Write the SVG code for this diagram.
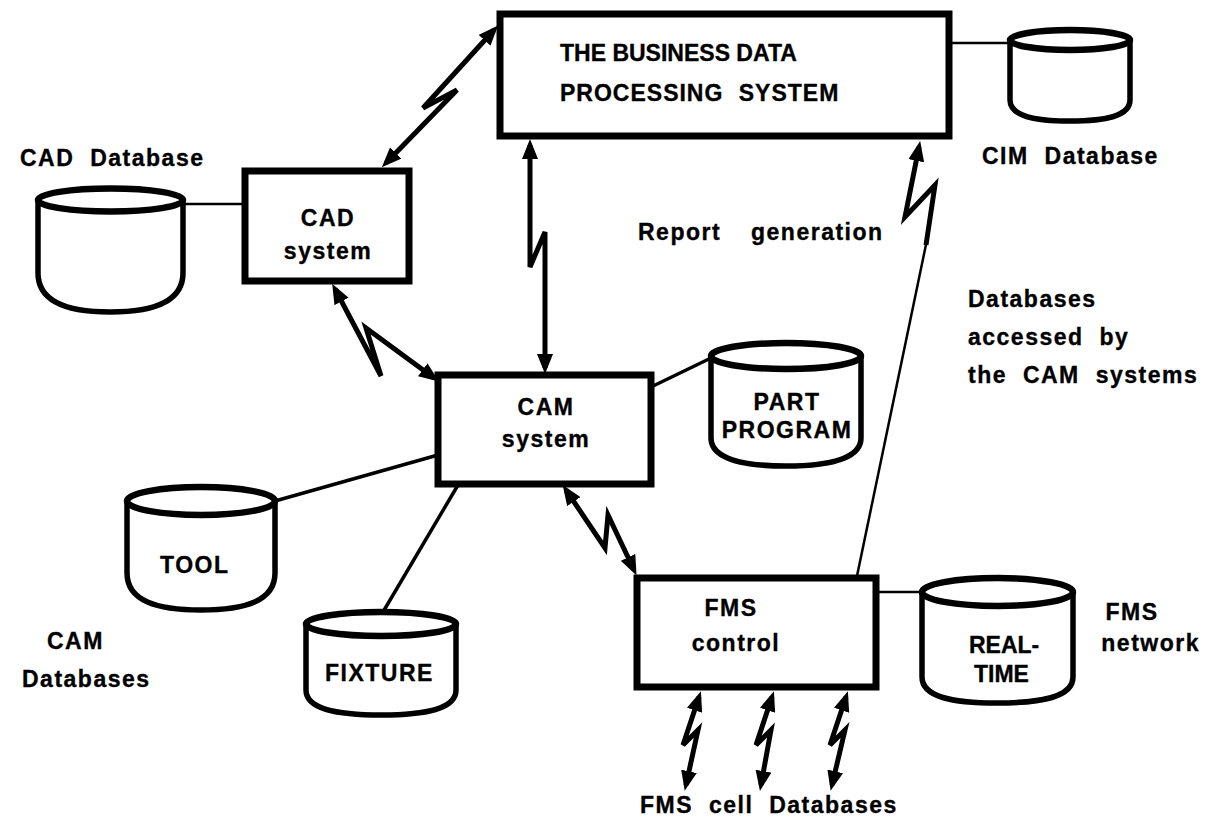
<svg xmlns="http://www.w3.org/2000/svg" width="1210" height="823" viewBox="0 0 1210 823">
  <defs>
    <style>
      .box{fill:#fff;stroke:#000;stroke-width:7}
      .body{fill:#fff;stroke:#000;stroke-width:5.5;stroke-linejoin:round}
      .rim{fill:#fff;stroke:#000;stroke-width:6.5}
      .link{fill:none;stroke:#000;stroke-width:3.5}
      .thin{fill:none;stroke:#000;stroke-width:2.5}
      .bolt{fill:none;stroke:#000;stroke-width:5;marker-start:url(#head);marker-end:url(#head)}
      .bolt1{fill:none;stroke:#000;stroke-width:5;marker-end:url(#head)}
      text{font-family:"Liberation Sans",Arial,Helvetica,sans-serif;font-weight:bold;font-size:23px;letter-spacing:1.5px;word-spacing:8px;fill:#000;stroke:#000;stroke-width:0.35}
      .mid{text-anchor:middle}
      .end{text-anchor:end}
      .tight{letter-spacing:0;word-spacing:0}
    </style>
    <marker id="head" markerUnits="userSpaceOnUse" viewBox="0 0 20 16" markerWidth="20" markerHeight="16" refX="14" refY="8" orient="auto-start-reverse">
      <path d="M0,0 L20,8 L0,16 z" fill="#000"/>
    </marker>
  </defs>

  <!-- connectors: database links and lightning-bolt data links -->
  <g id="connectors">
    <line class="thin" x1="949" y1="43" x2="1010" y2="43"/>
    <line class="thin" x1="183" y1="204" x2="245" y2="204"/>
    <line class="link" x1="651" y1="387" x2="711" y2="358"/>
    <line class="link" x1="275" y1="501" x2="438" y2="455"/>
    <line class="link" x1="383" y1="612" x2="458" y2="485"/>
    <line class="thin" x1="876" y1="592" x2="922" y2="592"/>

    <path class="bolt" d="M386,163 L457,90 L423,108 L494,30"/>
    <path class="bolt" d="M530,145 L530,267 L545,232 L545,368"/>
    <path class="bolt" d="M335,289 L381,376 L366,328 L434,378"/>
    <path class="bolt" d="M566,490 L605,548 L608,515 L634,570"/>
    <path class="thin" d="M857,576 L928,235"/>
    <path class="bolt1" d="M926,245 L935,185 L905,217 L919,147"/>
    <path class="bolt" d="M699,697 L683,745 L698,730 L686,785"/>
    <path class="bolt" d="M772,697 L756,745 L771,730 L761,785"/>
    <path class="bolt" d="M846,697 L830,745 L845,730 L832,785"/>
  </g>

  <g id="business">
    <rect class="box" x="500" y="14" width="449" height="122"/>
    <text class="tight" x="560" y="61">THE BUSINESS DATA</text>
    <text x="560" y="101" style="letter-spacing:1px">PROCESSING SYSTEM</text>
  </g>

  <g id="cim-db">
    <path class="body" d="M1010,40 L1010,100 C1010,116 1034,121 1070,121 S1130,116 1130,100 L1130,40"/>
    <ellipse class="rim" cx="1070" cy="40" rx="60" ry="10"/>
    <text x="982" y="164">CIM Database</text>
  </g>

  <g id="cad-db">
    <path class="body" d="M38,200 L38,273 C38,302 67,312 110,312 S183,302 183,273 L183,200"/>
    <ellipse class="rim" cx="110.5" cy="200" rx="72.5" ry="11.5"/>
    <text x="20" y="166">CAD Database</text>
  </g>

  <g id="cad">
    <rect class="box" x="245" y="171" width="164" height="110"/>
    <text class="mid" x="328" y="226">CAD</text>
    <text class="mid" x="328" y="259">system</text>
  </g>

  <text id="report-label" x="638" y="240" style="word-spacing:22px">Report generation</text>

  <g id="cam-access-label">
    <text x="968" y="307">Databases</text>
    <text x="968" y="345">accessed by</text>
    <text x="968" y="383">the CAM systems</text>
  </g>

  <g id="cam">
    <rect class="box" x="438" y="375" width="213" height="109"/>
    <text class="mid" x="546" y="415">CAM</text>
    <text class="mid" x="546" y="447">system</text>
  </g>

  <g id="part-program">
    <path class="body" d="M711,356 L711,438 C711,458 741,466 786,466 S861,458 861,438 L861,356"/>
    <ellipse class="rim" cx="786" cy="356" rx="75" ry="13"/>
    <text class="mid" x="787" y="410">PART</text>
    <text class="mid" x="787" y="438">PROGRAM</text>
  </g>

  <g id="tool">
    <path class="body" d="M127,501 L127,573 C127,601 157,610 201,610 S275,601 275,573 L275,501"/>
    <ellipse class="rim" cx="201" cy="501" rx="74" ry="14"/>
    <text x="160" y="573">TOOL</text>
  </g>

  <g id="fixture">
    <path class="body" d="M306,624 L306,690 C306,709 336,715 381,715 S456,709 456,690 L456,624"/>
    <ellipse class="rim" cx="381" cy="624" rx="75" ry="12"/>
    <text x="325" y="681">FIXTURE</text>
  </g>

  <g id="cam-db-label">
    <text x="47" y="649">CAM</text>
    <text x="22" y="687">Databases</text>
  </g>

  <g id="fms">
    <rect class="box" x="637" y="578" width="239" height="109"/>
    <text class="mid" x="731" y="616">FMS</text>
    <text class="mid" x="736" y="651">control</text>
  </g>

  <g id="real-time">
    <path class="body" d="M922,592 L922,677 C922,697 952,703 997,703 S1073,697 1073,677 L1073,592"/>
    <ellipse class="rim" cx="997.5" cy="592" rx="75.5" ry="14"/>
    <text class="tight" x="969" y="653">REAL-</text>
    <text class="tight" x="974" y="682">TIME</text>
  </g>

  <g id="fms-network-label">
    <text class="mid" x="1132" y="620">FMS</text>
    <text class="end" x="1200" y="651">network</text>
  </g>

  <text id="cell-label" x="640" y="813">FMS cell Databases</text>
</svg>
